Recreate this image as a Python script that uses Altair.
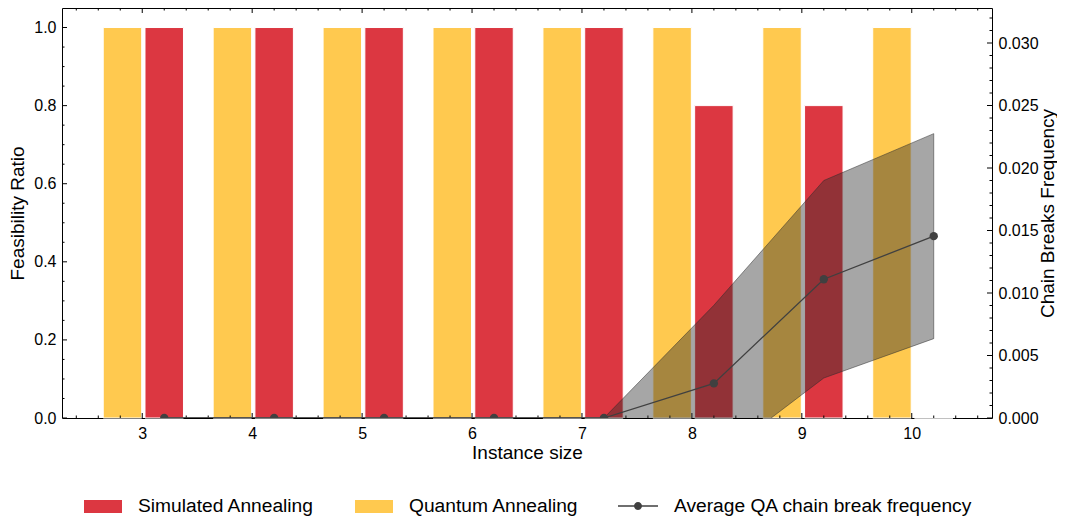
import altair as alt
import pandas as pd

# ---------------- data ----------------
sizes = [3, 4, 5, 6, 7, 8, 9, 10]
sa_ratio = [1.0, 1.0, 1.0, 1.0, 1.0, 0.8, 0.8, 0.0]
qa_ratio = [1.0, 1.0, 1.0, 1.0, 1.0, 1.0, 1.0, 1.0]
cb_mean = [0.0, 0.0, 0.0, 0.0, 0.0, 0.00277, 0.0111, 0.01455]
cb_std = [0.0, 0.0, 0.0, 0.0, 0.0, 0.00625, 0.0079, 0.0082]
methods = ["Simulated Annealing", "Quantum Annealing"]
line_label = "Average QA chain break frequency"
x_tick_vals = [3, 4, 5, 6, 7, 8, 9, 10]
left_tick_vals = [0.0, 0.2, 0.4, 0.6, 0.8, 1.0]
right_tick_vals = [0.0, 0.005, 0.01, 0.015, 0.02, 0.025, 0.03]

# ---------------- style ----------------
FONT = "Liberation Sans"
RED = "#DC3741"
YEL = "#FFC94F"
DARK = "#404040"
BAND = "#2b2b2b"
XDOM = [2.27, 10.73]
YL = [0.0, 1.05]
YR = [0.0, 0.0328]
BAR_W = 0.35
OFFSET = {"Simulated Annealing": 0.2, "Quantum Annealing": -0.18}
LEG_FS = 19.2

x_minor = [round(2.2 + 0.2 * i, 1) for i in range(1, 43)]
x_minor = [v for v in x_minor if XDOM[0] < v < XDOM[1] and abs(v - round(v)) > 1e-6]
yl_minor = [round(0.05 * i, 2) for i in range(1, 21)]
yl_minor = [v for v in yl_minor if abs(v / 0.2 - round(v / 0.2)) > 1e-6]
yr_minor = [round(0.001 * i, 3) for i in range(1, 33)]
yr_minor = [v for v in yr_minor if abs(v / 0.005 - round(v / 0.005)) > 1e-6]

bars_df = pd.DataFrame(
    [{"n": n, "method": methods[0], "value": v, "off": OFFSET[methods[0]]} for n, v in zip(sizes, sa_ratio)]
    + [{"n": n, "method": methods[1], "value": v, "off": OFFSET[methods[1]]} for n, v in zip(sizes, qa_ratio)]
)
cb_df = pd.DataFrame({"n": sizes, "mean": cb_mean, "std": cb_std, "series": [line_label] * len(sizes)})

xs = alt.Scale(domain=XDOM, nice=False, zero=False)
yls = alt.Scale(domain=YL, nice=False, zero=False)
yrs = alt.Scale(domain=YR, nice=False, zero=False)

X_TITLE = "Instance size"
YL_TITLE = "Feasibility Ratio"
YR_TITLE = "Chain Breaks Frequency"
ax_x = alt.Axis(values=x_tick_vals, format="d", ticks=False, tickSize=0, domain=False,
                grid=False, labelPadding=7, titlePadding=2, orient="bottom")
ax_yl = alt.Axis(values=left_tick_vals, format=".1f", ticks=False, tickSize=0, domain=False,
                 grid=False, labelPadding=6, titlePadding=6, orient="left")
ax_yr = alt.Axis(values=right_tick_vals, format=".3f", ticks=False, tickSize=0, domain=False,
                 grid=False, labelPadding=6, titlePadding=0, orient="right",
                 titleAngle=270, titleBaseline="top")

rect_path = "M-1,-0.342H1V0.342H-1Z"
line_path = ("M-1,-0.035H1V0.035H-1Z "
             "M-0.2,0A0.2,0.2 0 1,1 0.2,0A0.2,0.2 0 1,1 -0.2,0Z")

bars = alt.Chart(bars_df).transform_calculate(
    x0=f"datum.n + datum.off - {BAR_W / 2}",
    x1=f"datum.n + datum.off + {BAR_W / 2}",
).mark_bar(stroke="white", strokeWidth=1, opacity=1).encode(
    x=alt.X("x0:Q", scale=xs, title=X_TITLE, axis=ax_x),
    x2="x1:Q",
    y=alt.Y("value:Q", scale=yls, title=YL_TITLE, axis=ax_yl),
    y2=alt.Y2Datum(0),
    color=alt.Color("method:N", scale=alt.Scale(domain=methods, range=[RED, YEL]),
                    legend=alt.Legend(orient="none", legendX=22, legendY=479, direction="horizontal",
                                      title=None, symbolType=rect_path, symbolSize=1444,
                                      symbolStrokeWidth=0, labelFontSize=LEG_FS, labelOffset=16,
                                      columnPadding=40, labelLimit=500)),
)


def xticks(vals, yval, size):
    return alt.Chart(pd.DataFrame({"t": vals})).mark_tick(
        orient="vertical", size=size, thickness=1, color="black", opacity=1, clip=True
    ).encode(
        x=alt.X("t:Q", scale=xs, title=X_TITLE, axis=ax_x),
        y=alt.YDatum(yval, scale=yls, title=YL_TITLE, axis=ax_yl),
    )


def ylticks(vals, size):
    return alt.Chart(pd.DataFrame({"t": vals})).mark_tick(
        orient="horizontal", size=size, thickness=1, color="black", opacity=1, clip=True
    ).encode(
        y=alt.Y("t:Q", scale=yls, title=YL_TITLE, axis=ax_yl),
        x=alt.XDatum(XDOM[0], scale=xs, title=X_TITLE, axis=ax_x),
    )


def yrticks(vals, size):
    return alt.Chart(pd.DataFrame({"t": vals})).mark_tick(
        orient="horizontal", size=size, thickness=1, color="black", opacity=1, clip=True
    ).encode(
        y=alt.Y("t:Q", scale=yrs, title=YR_TITLE, axis=ax_yr),
        x=alt.XDatum(XDOM[1], scale=xs, title=X_TITLE, axis=ax_x),
    )


left = alt.layer(
    bars,
    xticks(x_tick_vals, YL[0], 10), xticks(x_minor, YL[0], 5),
    xticks(x_tick_vals, YL[1], 10), xticks(x_minor, YL[1], 5),
    ylticks(left_tick_vals, 10), ylticks(yl_minor, 5),
)

cb_base = alt.Chart(cb_df).transform_calculate(
    xp="datum.n + 0.2",
    lo="datum.mean - datum.std",
    hi="datum.mean + datum.std",
)

band = cb_base.mark_area(color=BAND, fillOpacity=0.42, stroke=BAND, strokeOpacity=0.5,
                         strokeWidth=1, clip=True).encode(
    x=alt.X("xp:Q", scale=xs, title=X_TITLE, axis=ax_x),
    y=alt.Y("lo:Q", scale=yrs, title=YR_TITLE, axis=ax_yr),
    y2="hi:Q",
)

line = cb_base.mark_line(color=DARK, strokeWidth=1.3, clip=True).encode(
    x=alt.X("xp:Q", scale=xs, title=X_TITLE, axis=ax_x),
    y=alt.Y("mean:Q", scale=yrs, title=YR_TITLE, axis=ax_yr),
)

points = cb_base.mark_point(filled=True, size=70, opacity=1, clip=True).encode(
    x=alt.X("xp:Q", scale=xs, title=X_TITLE, axis=ax_x),
    y=alt.Y("mean:Q", scale=yrs, title=YR_TITLE, axis=ax_yr),
    color=alt.Color("series:N", scale=alt.Scale(domain=[line_label], range=[DARK]),
                    legend=alt.Legend(orient="none", legendX=556, legendY=478, direction="horizontal",
                                      title=None, symbolType=line_path, symbolSize=1600,
                                      symbolStrokeWidth=0, labelFontSize=LEG_FS, labelOffset=16,
                                      labelLimit=500)),
)

right = alt.layer(band, line, points, yrticks(right_tick_vals, 10), yrticks(yr_minor, 5))

chart = alt.layer(left, right).resolve_scale(y="independent", color="independent").properties(
    width=930, height=410,
    autosize=alt.AutoSizeParams(type="none"),
    padding={"left": 54, "top": 0, "right": 65, "bottom": 101},
).configure_view(stroke="black", strokeWidth=1).configure_axis(
    labelFont=FONT, titleFont=FONT, labelFontSize=16, titleFontSize=19,
    labelColor="black", titleColor="black", titleFontWeight="normal",
).configure_legend(labelFont=FONT, labelColor="black")

chart.save("out.html", embed_options={"renderer": "svg", "actions": False})
